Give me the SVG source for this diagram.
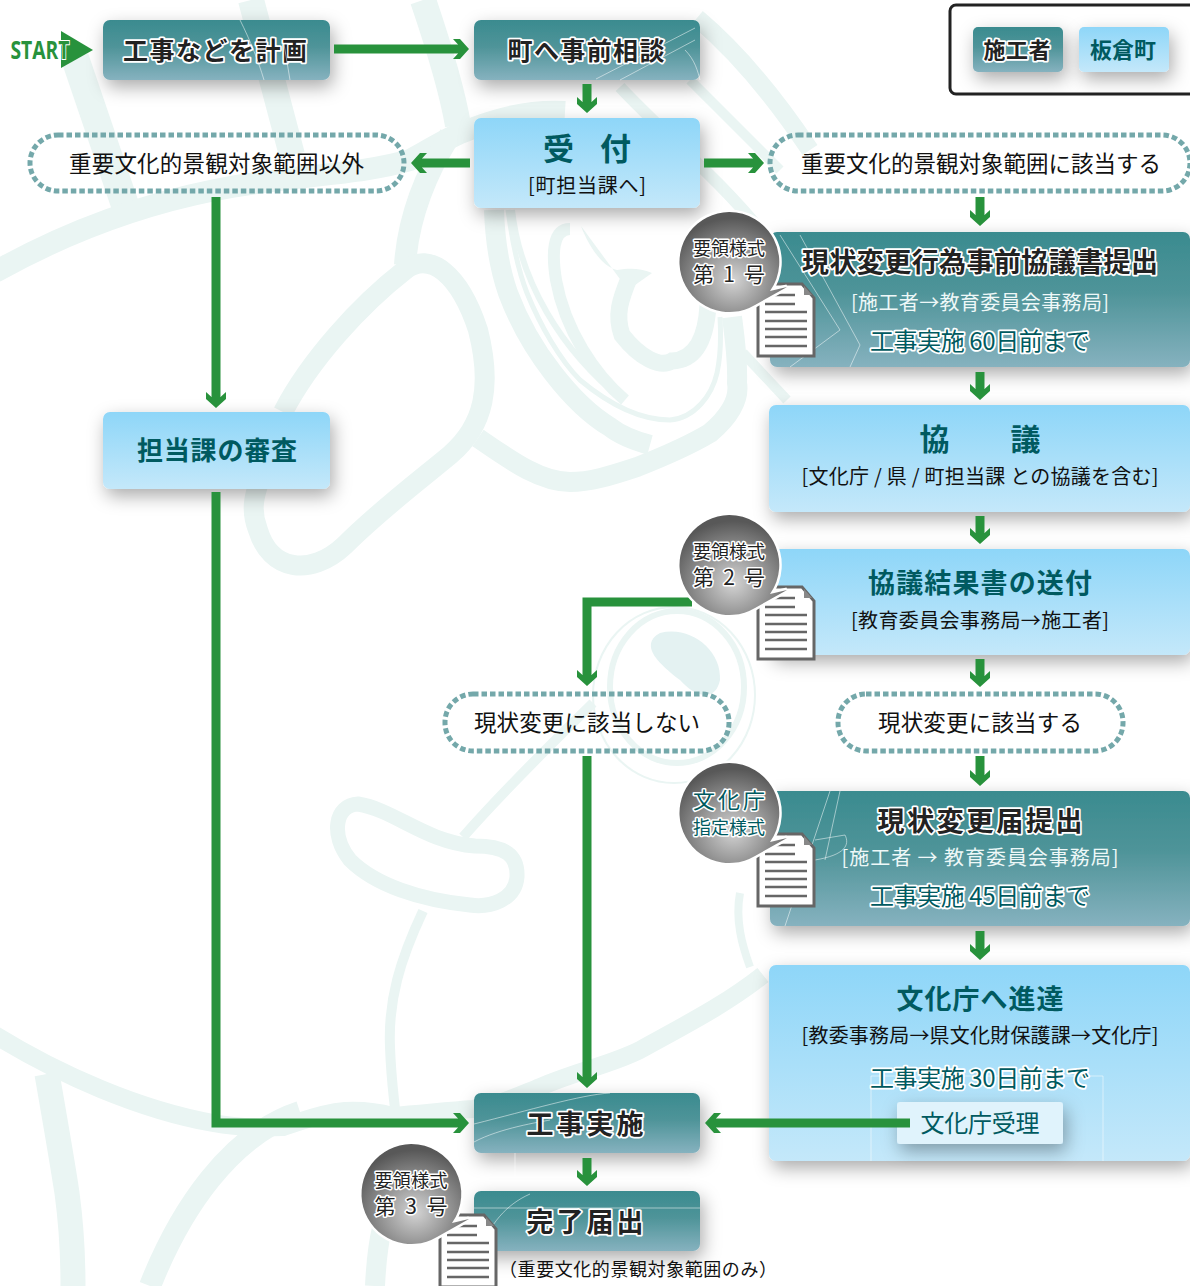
<svg xmlns="http://www.w3.org/2000/svg" width="1190" height="1286" viewBox="0 0 1190 1286">
<style>
text{font-family:"Noto Sans CJK JP","Noto Sans",sans-serif;text-anchor:middle}
.bg{fill:none;stroke:#eaf5f3;stroke-width:20;stroke-linecap:butt}
.box{filter:url(#sh)}
.t{fill:url(#teal)}.b{fill:url(#blue)}
.pill{fill:none;stroke:#74a8aa;stroke-width:5;stroke-dasharray:5.5 3}
.con{fill:none;stroke:#28923c;stroke-width:9}
.a{marker-end:url(#ah)}
.dk{fill:#222;font-weight:700;stroke:#fff;stroke-width:3.5;paint-order:stroke;stroke-linejoin:round}
.tl{fill:#005a60;font-weight:700}
.to{fill:#005a60;stroke:#fff;stroke-width:3.5;paint-order:stroke;stroke-linejoin:round}
.wh{fill:#eef8f8;font-size:20px}
.bk{fill:#111}
.bu{fill:#222;stroke:#fff;stroke-width:3;paint-order:stroke;stroke-linejoin:round}
.hl{fill:none;stroke:#fff;stroke-opacity:.5;stroke-width:1}
</style>
<defs>
<linearGradient id="teal" x1="0" y1="0" x2="0" y2="1"><stop offset="0" stop-color="#3a8b8f"/><stop offset=".45" stop-color="#4f9499"/><stop offset="1" stop-color="#86b2bf"/></linearGradient>
<linearGradient id="blue" x1="0" y1="0" x2="0" y2="1"><stop offset="0" stop-color="#8ed6f8"/><stop offset="1" stop-color="#c4e8fa"/></linearGradient>
<radialGradient id="gr" cx=".5" cy=".68" r=".62"><stop offset="0" stop-color="#d4d4d4"/><stop offset="1" stop-color="#585858"/></radialGradient>
<filter id="sh" x="-30%" y="-40%" width="160%" height="200%"><feDropShadow dx="3" dy="7" stdDeviation="9" flood-color="#000" flood-opacity=".33"/></filter>
<marker id="ah" markerUnits="userSpaceOnUse" viewBox="0 -10.5 17 21" refX="8" refY="0" markerWidth="17" markerHeight="21" orient="auto"><path d="M16,0L7,10H0L5,4.5V-4.5L0,-10H7Z" fill="#28923c"/></marker>
<g id="bub"><path d="M0,-50A50,50 0 0 1 41,29L58,25L26,43A50,50 0 1 1 0,-50Z" fill="url(#gr)" stroke="#fff" stroke-width="5" paint-order="stroke"/></g>
<g id="doc"><path d="M2,2H46L58,16V74H2Z" fill="#fff" stroke="#666" stroke-width="3"/><path d="M48,4V13H56Z" fill="#888"/><path d="M9,13H39M9,22H39M9,30H51M9,39H51M9,47H51M9,55H51M9,64H51" stroke="#666" stroke-width="2.5" fill="none"/></g>
</defs>
<g id="background">
<path class="bg" style="stroke-width:28" d="M75,58L125,205"/>
<path class="bg" style="stroke-width:26" d="M251,0L292,155"/>
<path class="bg" style="stroke-width:26" d="M423,0C440,50 452,90 458,125"/>
<path class="bg" style="stroke-width:22" d="M-5,272C70,230 140,205 215,190C290,175 360,175 410,160C430,150 450,135 474,128C500,118 530,110 565,112"/>
<path class="bg" style="stroke-width:22" d="M405,265C408,220 425,175 450,135"/>
<path class="bg" d="M283,412C310,360 360,305 405,270C430,250 460,275 478,330C492,385 485,425 450,455C420,480 380,510 345,545C310,578 270,570 258,530C250,510 255,495 258,485"/>
<path class="bg" d="M478,438C510,460 540,482 570,482C590,482 610,476 637,467C665,456 690,445 710,433C728,418 740,400 737,383C738,360 735,340 732,317"/>
<path class="bg" d="M494,210C495,240 500,270 508,293C520,325 535,350 553,373C570,395 590,415 610,427C620,435 632,440 650,445"/>
<path class="bg" style="stroke-width:5" d="M508,210C512,240 518,270 527,293C540,325 560,360 580,380C610,405 640,420 670,420C695,418 712,395 717,373C721,355 721,335 720,317"/>
<path class="bg" style="stroke-width:6" d="M512,210C520,280 560,350 623,400"/>
<path class="bg" style="stroke-width:12" d="M570,229C552,229 552,255 556,280C565,330 595,375 625,400"/>
<path d="M581,226C590,250 605,268 617,270C630,268 640,268 652,273L628,290Z" fill="#eaf5f3"/>
<path class="bg" style="stroke-width:17" d="M630,276C620,300 615,315 622,335C640,358 660,368 672,361C695,360 706,340 708,305"/>
<path class="bg" style="stroke-width:18" d="M697,18C735,50 770,90 810,150"/>
<path class="bg" style="stroke-width:12" d="M620,87C660,130 720,180 760,230"/>
<path class="bg" style="stroke-width:10" d="M690,80L780,170"/>
<path class="bg" style="stroke-width:10" d="M743,353L787,400"/>
<ellipse cx="677" cy="687" rx="67" ry="76" fill="none" stroke="#eaf5f3" stroke-width="6"/>
<ellipse cx="674" cy="695" rx="81" ry="88" fill="none" stroke="#eaf5f3" stroke-width="2"/>
<path d="M660,633C690,625 722,650 720,680C716,700 698,700 680,680C660,665 638,645 660,633Z" fill="#e4f2f2"/>
<path class="bg" style="stroke-width:15" d="M358,804C395,810 425,842 475,846C505,846 518,855 517,877C515,900 490,908 470,905C420,900 375,885 350,860C330,835 335,805 358,804Z"/>
<path class="bg" style="stroke-width:10" d="M463,837C500,795 550,745 593,703"/>
<path class="bg" style="stroke-width:10" d="M423,911C400,960 388,1000 390,1047C391,1075 393,1090 395,1109"/>
<path class="bg" style="stroke-width:18" d="M-5,1035C60,1075 140,1110 213,1123C240,1128 260,1128 283,1127C300,1122 320,1113 345,1111C365,1110 378,1112 392,1116C420,1114 445,1111 473,1109C500,1105 520,1095 540,1087C580,1070 610,1065 640,1050C685,1025 725,1005 763,975"/>
<path class="bg" style="stroke-width:25" d="M47,1074C55,1120 62,1160 67,1193C72,1230 73,1260 73,1286"/>
<path class="bg" style="stroke-width:22" d="M300,1112C230,1135 180,1210 150,1286"/>
<path class="bg" d="M375,1286C376,1265 378,1245 382,1228"/>
<path class="bg" style="stroke-width:8" d="M740,893C735,920 742,945 750,967"/>
</g>
<g id="n-plan"><rect class="box t" x="103" y="20" width="227" height="60" rx="7"/><text class="dk" x="215" y="60" font-size="25" textLength="184">工事などを計画</text><path class="hl" d="M240,20C250,40 258,60 264,80M284,44L290,80"/></g>
<g id="n-consult"><rect class="box t" x="474" y="20" width="226" height="60" rx="7"/><path class="hl" d="M596,79L695,28M620,80L695,40M685,50C695,60 698,72 700,80"/><text class="dk" x="586" y="60" font-size="25" textLength="157">町へ事前相談</text></g>
<g id="n-accept"><rect class="box b" x="474" y="118" width="226" height="90" rx="7"/><text class="tl" x="587" y="160" font-size="31" textLength="88">受 付</text><text class="bk" x="587" y="193" font-size="20" textLength="118">[町担当課へ]</text></g>
<g id="n-out"><rect class="pill" x="30" y="135" width="374" height="56" rx="28"/><text class="bk" x="216.500" y="172" font-size="22.500" textLength="295">重要文化的景観対象範囲以外</text></g>
<g id="n-in"><rect class="pill" x="770" y="135" width="420" height="56" rx="28"/><text class="bk" x="981" y="172" font-size="22.500" textLength="360">重要文化的景観対象範囲に該当する</text></g>
<g id="n-review"><rect class="box b" x="103" y="412" width="227" height="77" rx="7"/><text class="tl" x="217" y="460" font-size="26" textLength="160">担当課の審査</text></g>
<g id="n-doc1"><rect class="box t" x="770" y="232" width="420" height="135" rx="7"/><path class="hl" d="M800,235L860,345L850,367M780,235L840,330L790,367"/><text class="dk" x="980" y="272" font-size="27" textLength="356">現状変更行為事前協議書提出</text><text class="wh" x="980" y="310" textLength="258">[施工者→教育委員会事務局]</text><text class="to" x="980" y="350" font-size="24" textLength="220">工事実施 60日前まで</text></g>
<g id="n-talk"><rect class="box b" x="769" y="405" width="421" height="107" rx="7"/><text class="tl" x="980" y="450" font-size="30" textLength="121">協　　議</text><text class="bk" x="980" y="484" font-size="20" textLength="357">[文化庁 / 県 / 町担当課 との協議を含む]</text></g>
<g id="n-result"><rect class="box b" x="770" y="549" width="420" height="106" rx="7"/><text class="tl" x="980" y="593" font-size="27" textLength="224">協議結果書の送付</text><text class="bk" x="980" y="628" font-size="20" textLength="258">[教育委員会事務局→施工者]</text></g>
<g id="n-no"><rect class="pill" x="445" y="694" width="284" height="57" rx="28"/><text class="bk" x="587" y="731" font-size="22.500" textLength="226">現状変更に該当しない</text></g>
<g id="n-yes"><rect class="pill" x="838" y="694" width="285" height="57" rx="28"/><text class="bk" x="980" y="731" font-size="22.500" textLength="204">現状変更に該当する</text></g>
<g id="n-notify"><rect class="box t" x="770" y="791" width="420" height="135" rx="7"/><path class="hl" d="M830,791L785,926M840,791L825,860M815,840L845,835C850,845 845,855 815,860"/><text class="dk" x="980" y="831" font-size="27" textLength="205">現状変更届提出</text><text class="wh" x="980" y="865" textLength="277">[施工者 → 教育委員会事務局]</text><text class="to" x="980" y="905" font-size="24" textLength="220">工事実施 45日前まで</text></g>
<g id="n-send"><rect class="box b" x="769" y="965" width="421" height="196" rx="7"/><path class="hl" d="M871,1161V1076H1103V1161"/><text class="tl" x="980" y="1009" font-size="27" textLength="167">文化庁へ進達</text><text class="bk" x="980" y="1043" font-size="20" textLength="357">[教委事務局→県文化財保護課→文化庁]</text><text class="to" x="980" y="1087" font-size="24" textLength="220">工事実施 30日前まで</text></g>
<g id="n-recv"><rect x="897" y="1102" width="166" height="42" rx="3" fill="#e0f3fc" filter="url(#sh)"/><text x="980" y="1132" font-size="24" fill="#005a60" textLength="119">文化庁受理</text></g>
<g id="n-work"><rect class="box t" x="474" y="1093" width="226" height="60" rx="7"/><path class="hl" d="M474,1124C530,1110 580,1095 610,1093M474,1142C500,1128 540,1122 550,1120M515,1153V1190"/><text class="dk" x="585" y="1134" font-size="27" textLength="117">工事実施</text></g>
<g id="n-done"><rect class="box t" x="474" y="1191" width="226" height="60" rx="7"/><path class="hl" d="M474,1208H700M480,1250C490,1225 505,1205 530,1194"/><text class="dk" x="585" y="1232" font-size="27" textLength="117">完了届出</text></g>
<g id="connectors">
<path class="con a" d="M334,49H461"/>
<path class="con a" d="M587,84V105"/>
<path class="con a" d="M470,163H419"/>
<path class="con a" d="M704,163H756"/>
<path class="con a" d="M980,197V218"/>
<path class="con a" d="M216,197V400"/>
<path class="con a" d="M980,372V392"/>
<path class="con a" d="M980,516V536"/>
<path class="con a" d="M980,659V679"/>
<path class="con a" d="M980,756V778"/>
<path class="con a" d="M980,931V952"/>
<path class="con a" d="M692,602H587V678"/>
<path class="con a" d="M587,756V1080"/>
<path class="con a" d="M216,492V1123H461"/>
<path class="con a" d="M910,1123H713"/>
<path class="con a" d="M587,1158V1178"/>
</g>
<g id="start"><polygon points="61,31 93,50 61,68" fill="#28923c"/><text x="40" y="59" font-size="25" font-weight="700" fill="#28923c" stroke="#fff" stroke-width="2" paint-order="stroke" style="font-family:'Open Sans',sans-serif" textLength="59" lengthAdjust="spacingAndGlyphs">START</text></g>
<g id="call1"><use href="#doc" x="756" y="282"/><use href="#bub" x="729" y="262"/><text class="bu" x="729" y="255" font-size="18" textLength="72">要領様式</text><text class="bu" x="729" y="282" font-size="21" textLength="72">第 1 号</text></g>
<g id="call2"><use href="#doc" x="756" y="585"/><use href="#bub" x="729" y="565"/><text class="bu" x="729" y="558" font-size="18" textLength="72">要領様式</text><text class="bu" x="729" y="585" font-size="21" textLength="72">第 2 号</text></g>
<g id="call3"><use href="#doc" x="756" y="832"/><use href="#bub" x="729" y="813"/><text class="to" x="729" y="808" font-size="22" textLength="72" style="stroke-width:3">文化庁</text><text class="to" x="729" y="834" font-size="18" textLength="72" style="stroke-width:3">指定様式</text></g>
<g id="call4"><use href="#doc" x="438" y="1213"/><use href="#bub" x="411" y="1194"/><text class="bu" x="411" y="1187" font-size="18" textLength="73">要領様式</text><text class="bu" x="411" y="1214" font-size="21" textLength="73">第 3 号</text></g>
<text id="note" class="bk" x="638" y="1276" font-size="18" textLength="278">（重要文化的景観対象範囲のみ）</text>
<g id="legend"><rect x="950" y="5" width="250" height="89" rx="6" fill="#fff" stroke="#222" stroke-width="3"/><g id="lg-a"><rect class="box t" x="973" y="27" width="90" height="45" rx="5"/><text class="dk" x="1017" y="58" font-size="22" textLength="67">施工者</text></g><g id="lg-b"><rect class="box b" x="1079" y="27" width="90" height="45" rx="5"/><text class="tl" x="1123" y="58" font-size="22" textLength="66">板倉町</text></g></g>
</svg>
